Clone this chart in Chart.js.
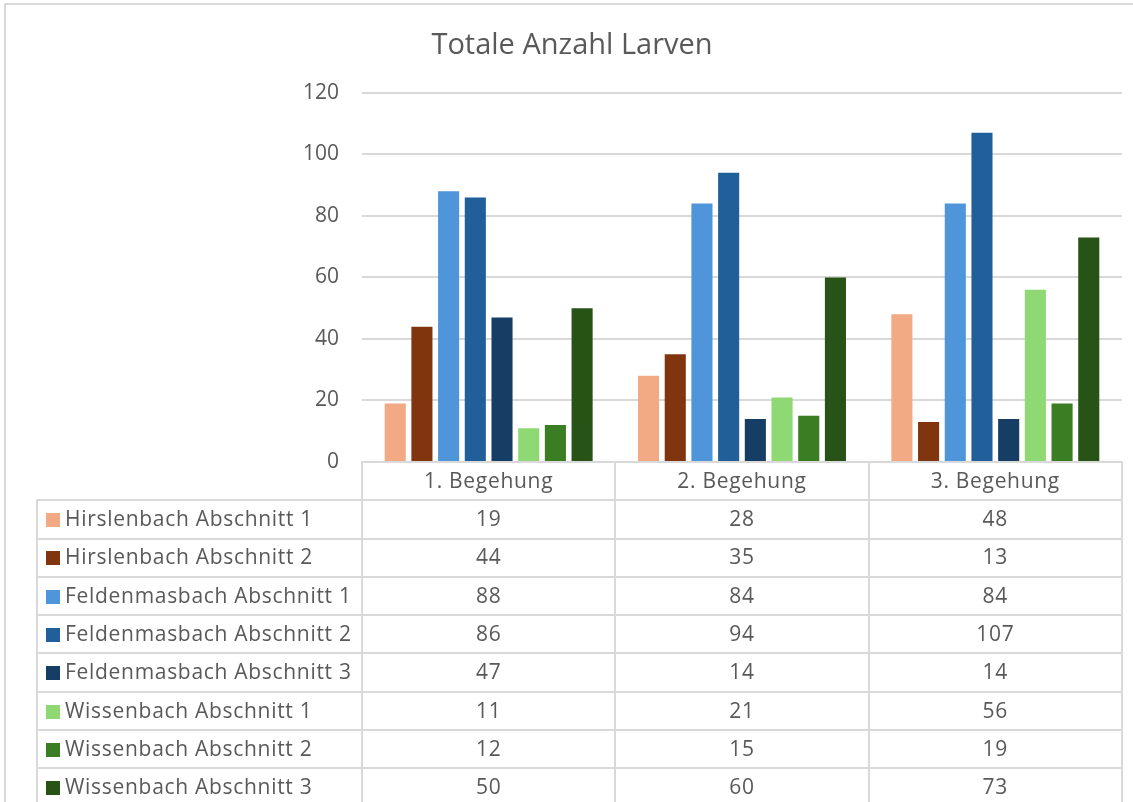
<!DOCTYPE html>
<html lang="de">
<head>
  <meta charset="UTF-8">
  <title>Totale Anzahl Larven</title>
  <script src="https://cdn.jsdelivr.net/npm/chart.js"></script>
  <style>
    body { margin: 0; background: #fff; font-family: "Open Sans", sans-serif; }
    #wrap { position: relative; width: 1133px; height: 802px; overflow: hidden; background: #fff; }
    #rahmen { position: absolute; left: 4px; top: 3px; right: -10px; bottom: -10px;
              border-left: 2px solid #d9d9d9; border-top: 2px solid #d9d9d9; }
    #grafik { position: absolute; left: 0; top: 0; }
    #tabelle { position: absolute; top: 461px; border-collapse: collapse; table-layout: fixed;
               color: #595959; font-size: 21px; letter-spacing: 0.7px; }
    #tabelle td { border: 2px solid #d9d9d9; height: 33.8px; line-height: 24px; padding: 0 0 2.5px 0;
                  text-align: center; white-space: nowrap; }
    #tabelle td.name { text-align: left; padding-left: 8px; }
    #tabelle td.leer { border-top: hidden; border-left: hidden; }
    .farbe { display: inline-block; width: 14px; height: 14px; margin-right: 5px; vertical-align: -1px; }
  </style>
</head>
<body>
  <div id="wrap">
    <div id="rahmen"></div>
    <canvas id="grafik" width="1133" height="802"></canvas>
    <table id="tabelle"></table>
  </div>

  <script>
    // Daten
    const kategorien = ['1. Begehung', '2. Begehung', '3. Begehung'];
    const reihen = [
      'Hirslenbach Abschnitt 1', 'Hirslenbach Abschnitt 2',
      'Feldenmasbach Abschnitt 1', 'Feldenmasbach Abschnitt 2', 'Feldenmasbach Abschnitt 3',
      'Wissenbach Abschnitt 1', 'Wissenbach Abschnitt 2', 'Wissenbach Abschnitt 3'
    ];
    const hirslenbach1 = [19, 28, 48];
    const hirslenbach2 = [44, 35, 13];
    const feldenmasbach1 = [88, 84, 84];
    const feldenmasbach2 = [86, 94, 107];
    const feldenmasbach3 = [47, 14, 14];
    const wissenbach1 = [11, 21, 56];
    const wissenbach2 = [12, 15, 19];
    const wissenbach3 = [50, 60, 73];
    const yMin = 0, yMax = 120, ySchritt = 20;

    const werte = [hirslenbach1, hirslenbach2, feldenmasbach1, feldenmasbach2,
                   feldenmasbach3, wissenbach1, wissenbach2, wissenbach3];
    const farben = ['#F2AA84', '#80350E', '#4E95D9', '#215F9A',
                    '#163E64', '#8ED973', '#3B7D23', '#275317'];
    const textFarbe = '#595959';
    const linienFarbe = '#d9d9d9';

    const ctx = document.getElementById('grafik').getContext('2d');
    const chart = new Chart(ctx, {
      type: 'bar',
      data: {
        labels: kategorien,
        datasets: reihen.map((name, i) => ({
          label: name,
          data: werte[i],
          backgroundColor: farben[i],
          barPercentage: 0.79,
          categoryPercentage: 0.843
        }))
      },
      options: {
        responsive: false,
        animation: false,
        layout: { padding: { left: 22, right: 11, top: 0, bottom: 340 } },
        plugins: {
          legend: { display: false },
          tooltip: { enabled: false },
          title: {
            display: true,
            text: 'Totale Anzahl Larven',
            color: textFarbe,
            font: { family: 'Open Sans', size: 29, weight: 'normal' },
            padding: { top: 28, bottom: 30 }
          }
        },
        scales: {
          x: { display: false },
          y: {
            min: yMin,
            max: yMax,
            ticks: {
              stepSize: ySchritt,
              color: textFarbe,
              padding: 23,
              font: { family: 'Open Sans', size: 21 }
            },
            grid: { color: linienFarbe, lineWidth: 2, drawTicks: false },
            border: { display: false },
            afterFit: (scale) => { scale.width = 340; }
          }
        }
      }
    });

    // Datentabelle unter dem Diagramm, Spalten nach der x-Achse ausgerichtet
    const ca = chart.chartArea;
    const links = 37;
    const spalte = (ca.right - ca.left) / kategorien.length;
    const tabelle = document.getElementById('tabelle');
    tabelle.style.left = (links - 1) + 'px';
    tabelle.style.width = (ca.right - links + 2) + 'px';

    let html = '<colgroup><col style="width:' + (ca.left - links) + 'px">';
    kategorien.forEach(() => { html += '<col style="width:' + spalte + 'px">'; });
    html += '</colgroup><tr><td class="leer"></td>';
    kategorien.forEach(k => { html += '<td>' + k + '</td>'; });
    html += '</tr>';
    reihen.forEach((name, i) => {
      html += '<tr><td class="name"><span class="farbe" style="background:' + farben[i] + '"></span>' + name + '</td>';
      werte[i].forEach(v => { html += '<td>' + v + '</td>'; });
      html += '</tr>';
    });
    tabelle.innerHTML = html;
  </script>
</body>
</html>
